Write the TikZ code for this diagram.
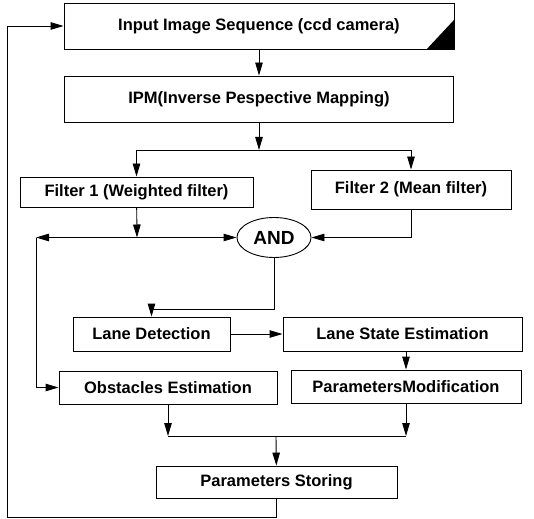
\documentclass[tikz,border=0pt]{standalone}
\usepackage{fontspec}
\setmainfont{Liberation Sans}
\usetikzlibrary{arrows.meta,shapes.geometric}
\tikzset{
  box/.style={draw, line width=0.9pt, inner sep=0pt, font=\fontsize{16.5}{19}\selectfont\bfseries},
  arr/.style={line width=0.9pt, -{Triangle[length=13pt,width=7.5pt]}},
}
\begin{document}
\begin{tikzpicture}[x=1pt,y=-1pt]
        \useasboundingbox (0,0) rectangle (534,518);
        % boxes
        \node [box, minimum width=390pt, minimum height=46pt] (input) at (259,26) {Input Image Sequence (ccd camera)};
        \node [box, minimum width=389pt, minimum height=46pt] (ipm) at (259,99) {IPM(Inverse Pespective Mapping)};
        \node [box, minimum width=233pt, minimum height=30pt] (filt1) at (136.5,192) {Filter 1 (Weighted filter)};
        \node [box, minimum width=200pt, minimum height=39pt] (filt2) at (411,189.5) {Filter 2 (Mean filter)};
        \node [box, ellipse, minimum width=74pt, minimum height=40pt, font=\fontsize{19}{22}\selectfont\bfseries] (and) at (274,237.5) {AND};
        \node [box, minimum width=157pt, minimum height=34pt] (lane) at (151.5,334) {Lane Detection};
        \node [box, minimum width=239pt, minimum height=34pt] (state) at (402.5,334) {Lane State Estimation};
        \node [box, minimum width=218pt, minimum height=33pt] (obst) at (168,387.5) {Obstacles Estimation};
        \node [box, minimum width=230pt, minimum height=33pt] (pmod) at (406,386.5) {ParametersModification};
        \node [box, minimum width=241pt, minimum height=32pt] (store) at (276.5,482) {Parameters Storing};
        \fill (input.south east) -- ++(-28,0) -- ++(28,-30) -- cycle;
        % points
        \coordinate (split) at (259,150);
        \coordinate (join1) at (137,237.5);
        \coordinate (left) at (36,237.5);
        \coordinate (merge) at (276,436);
        \coordinate (back) at (7,517);
        % connectors
        \draw [arr] (input) -- (ipm);
        \draw [arr] (ipm) -- (split);
        \draw [arr] (split) -| (filt1.north);
        \draw [arr] (split) -| (filt2.north);
        \draw [arr] (filt1) -- (join1);
        \draw [arr] (join1) -- (and);
        \draw [arr] (join1) -- (left);
        \draw [arr] (filt2) |- (and);
        \draw [arr] (left) |- (obst);
        \draw [arr] (and.south) -- ++(0,51) -| (lane.north);
        \draw [arr] (lane) -- (state);
        \draw [arr] (state.south -| pmod) -- (pmod.north);
        \draw [arr] (obst) -- (obst |- merge);
        \draw [arr] (pmod) -- (pmod |- merge);
        \draw [line width=0.9pt] (obst |- merge) -- (pmod |- merge);
        \draw [arr] (merge) -- (store);
        \draw [arr] (store) |- (back) |- (input);
      \end{tikzpicture}
\end{document}
